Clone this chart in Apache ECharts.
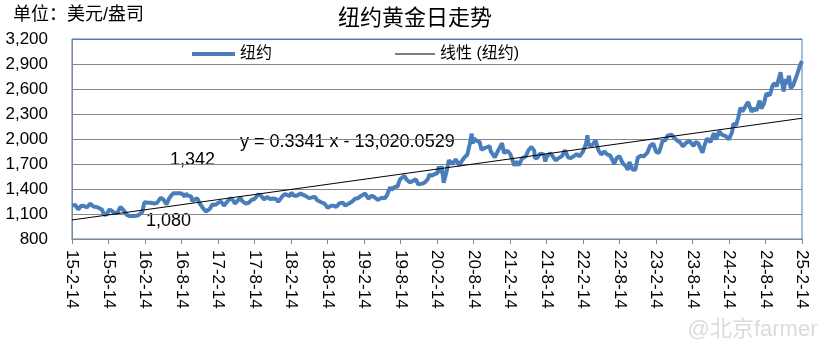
<!DOCTYPE html>
<html><head><meta charset="utf-8">
<script src="https://cdn.jsdelivr.net/npm/echarts@6/dist/echarts.min.js"></script>
<style>html,body{margin:0;padding:0;background:#fff}#c{width:830px;height:348px}</style>
</head><body><div id="c"></div>
<script>
// ---- tick labels ----
const xTickLabels = ['15-2-14','15-8-14','16-2-14','16-8-14','17-2-14','17-8-14','18-2-14','18-8-14','19-2-14','19-8-14','20-2-14','20-8-14','21-2-14','21-8-14','22-2-14','22-8-14','23-2-14','23-8-14','24-2-14','24-8-14','25-2-14'];
const yTickLabels = ['800','1,100','1,400','1,700','2,000','2,300','2,600','2,900','3,200'];
const xRange = ['2015-02-14','2025-02-14'];
const yRange = [800, 3200];

// ---- NY gold price (USD/oz) ----
const ny2015 = [['2015-02-14',1200],['2015-03-02',1210],['2015-03-17',1155],['2015-04-01',1200],['2015-04-15',1195],['2015-05-01',1180],['2015-05-15',1225],['2015-06-01',1190],['2015-06-15',1185],['2015-07-01',1170],['2015-07-15',1150],['2015-07-24',1090],['2015-08-05',1095],['2015-08-21',1155],['2015-09-01',1140],['2015-09-15',1110],['2015-10-01',1120],['2015-10-14',1185],['2015-11-01',1140],['2015-11-15',1090],['2015-12-01',1075],['2015-12-17',1075]];
const ny2016 = [['2016-01-04',1080],['2016-01-15',1090],['2016-02-01',1125],['2016-02-11',1240],['2016-03-01',1235],['2016-03-15',1235],['2016-04-01',1225],['2016-04-15',1235],['2016-05-02',1295],['2016-05-16',1275],['2016-06-01',1215],['2016-06-15',1290],['2016-06-24',1320],['2016-07-06',1350],['2016-07-15',1330],['2016-08-02',1350],['2016-08-15',1345],['2016-09-01',1310],['2016-09-07',1345],['2016-09-15',1320],['2016-10-03',1310],['2016-10-07',1255],['2016-10-17',1255],['2016-11-01',1290],['2016-11-15',1225],['2016-12-01',1170],['2016-12-15',1130]];
const ny2017 = [['2017-01-03',1160],['2017-01-17',1215],['2017-02-01',1210],['2017-02-15',1235],['2017-03-01',1250],['2017-03-15',1200],['2017-04-03',1255],['2017-04-18',1290],['2017-05-01',1260],['2017-05-09',1225],['2017-05-15',1235],['2017-06-06',1295],['2017-06-15',1255],['2017-07-03',1225],['2017-07-10',1210],['2017-07-17',1235],['2017-08-01',1270],['2017-08-15',1280],['2017-09-01',1330],['2017-09-08',1350],['2017-09-15',1325],['2017-10-02',1275],['2017-10-16',1305],['2017-11-01',1280],['2017-11-15',1285],['2017-12-01',1280],['2017-12-12',1245],['2017-12-20',1265]];
const ny2018 = [['2018-01-02',1315],['2018-01-15',1340],['2018-01-25',1360],['2018-02-08',1315],['2018-02-15',1355],['2018-03-01',1320],['2018-03-15',1320],['2018-04-02',1345],['2018-04-11',1360],['2018-04-25',1320],['2018-05-15',1290],['2018-06-01',1300],['2018-06-14',1305],['2018-06-25',1265],['2018-07-16',1240],['2018-08-01',1225],['2018-08-16',1175],['2018-09-04',1200],['2018-09-17',1200],['2018-09-28',1185],['2018-10-15',1230],['2018-11-01',1235],['2018-11-13',1200],['2018-12-03',1230],['2018-12-17',1250]];
const ny2019 = [['2019-01-02',1285],['2019-01-15',1290],['2019-02-01',1320],['2019-02-20',1345],['2019-03-07',1285],['2019-03-25',1320],['2019-04-08',1300],['2019-04-23',1270],['2019-05-15',1295],['2019-05-30',1290],['2019-06-10',1330],['2019-06-25',1420],['2019-07-02',1390],['2019-07-18',1425],['2019-08-01',1430],['2019-08-13',1515],['2019-09-04',1560],['2019-09-16',1510],['2019-10-01',1480],['2019-10-15',1495],['2019-11-01',1515],['2019-11-12',1455],['2019-12-02',1465],['2019-12-16',1480],['2019-12-31',1520]];
const ny2020 = [['2020-01-08',1575],['2020-01-20',1560],['2020-02-03',1580],['2020-02-14',1585],['2020-02-24',1670],['2020-03-02',1595],['2020-03-09',1675],['2020-03-19',1475],['2020-04-01',1595],['2020-04-14',1745],['2020-05-01',1700],['2020-05-18',1755],['2020-06-05',1685],['2020-06-16',1730],['2020-07-01',1780],['2020-07-15',1810],['2020-07-28',1945],['2020-08-06',2065],['2020-08-11',1945],['2020-08-18',2005],['2020-09-01',1975],['2020-09-15',1965],['2020-09-24',1870],['2020-10-13',1895],['2020-11-04',1915],['2020-11-09',1855],['2020-11-30',1780],['2020-12-15',1855]];
const ny2021 = [['2021-01-05',1950],['2021-01-15',1830],['2021-02-01',1860],['2021-02-15',1820],['2021-03-01',1725],['2021-03-08',1680],['2021-03-17',1730],['2021-03-30',1685],['2021-04-15',1765],['2021-05-03',1790],['2021-05-17',1865],['2021-06-01',1905],['2021-06-15',1860],['2021-06-18',1770],['2021-07-01',1775],['2021-07-15',1825],['2021-08-02',1815],['2021-08-09',1730],['2021-08-16',1785],['2021-09-03',1830],['2021-09-15',1795],['2021-09-30',1745],['2021-10-15',1770],['2021-11-01',1795],['2021-11-16',1865],['2021-12-01',1780],['2021-12-15',1770]];
const ny2022 = [['2022-01-03',1800],['2022-01-14',1820],['2022-01-28',1790],['2022-02-15',1855],['2022-03-01',1940],['2022-03-08',2045],['2022-03-15',1925],['2022-04-01',1925],['2022-04-18',1985],['2022-05-02',1865],['2022-05-16',1815],['2022-06-01',1850],['2022-06-15',1815],['2022-07-01',1800],['2022-07-20',1700],['2022-08-01',1770],['2022-08-15',1795],['2022-09-01',1710],['2022-09-15',1680],['2022-09-27',1630],['2022-10-04',1725],['2022-10-20',1635],['2022-11-03',1630],['2022-11-15',1775],['2022-12-01',1800],['2022-12-15',1790]];
const ny2023 = [['2023-01-03',1840],['2023-01-16',1920],['2023-02-01',1945],['2023-02-15',1845],['2023-03-01',1835],['2023-03-08',1815],['2023-03-20',1980],['2023-04-03',1985],['2023-04-13',2040],['2023-05-04',2050],['2023-05-15',2020],['2023-06-01',1980],['2023-06-15',1960],['2023-06-29',1910],['2023-07-17',1960],['2023-08-01',1975],['2023-08-21',1915],['2023-09-01',1965],['2023-09-15',1945],['2023-10-05',1835],['2023-10-16',1930],['2023-10-27',2005],['2023-11-14',1965],['2023-12-01',2070],['2023-12-13',1995],['2023-12-27',2090]];
const ny2024 = [['2024-01-12',2050],['2024-01-29',2035],['2024-02-14',1995],['2024-03-01',2085],['2024-03-08',2185],['2024-03-21',2165],['2024-04-01',2255],['2024-04-12',2375],['2024-04-22',2330],['2024-05-02',2310],['2024-05-20',2445],['2024-06-07',2325],['2024-06-20',2370],['2024-07-01',2340],['2024-07-17',2460],['2024-07-25',2365],['2024-08-07',2420],['2024-08-20',2545],['2024-09-06',2525],['2024-09-20',2645],['2024-10-01',2670],['2024-10-10',2630],['2024-10-30',2800],['2024-11-06',2680],['2024-11-14',2570],['2024-11-25',2720],['2024-12-02',2660],['2024-12-11',2760],['2024-12-19',2610],['2024-12-31',2640]];
const ny2025 = [['2025-01-08',2660],['2025-01-17',2750],['2025-01-27',2760],['2025-02-05',2890],['2025-02-11',2920],['2025-02-14',2935]];

// ---- Excel linear trendline: y = 0.3341 x - 13,020.0529 (x = Excel date serial) ----
const trendSlope = 0.3341;
const trendIntercept = -13020.0529;
const trendLabel = 'y = 0.3341 x - 13,020.0529';

const nyData = [].concat(ny2015, ny2016, ny2017, ny2018, ny2019, ny2020, ny2021, ny2022, ny2023, ny2024, ny2025);
function excelSerial(s) {
  const p = s.split('-').map(Number);
  return (Date.UTC(p[0], p[1] - 1, p[2]) - Date.UTC(1899, 11, 30)) / 86400000;
}
const trendData = xRange.map(d => [d, trendSlope * excelSerial(d) + trendIntercept]);

const FONT = '"Liberation Sans", Arial, "Noto Sans CJK SC", sans-serif';
const grey = '#868686';
const blue = '#4a7ebb';

const chart = echarts.init(document.getElementById('c'), null, {renderer: 'canvas'});
chart.setOption({
  animation: false,
  backgroundColor: '#fff',
  textStyle: {fontFamily: FONT},
  title: {
    text: '纽约黄金日走势', left: 'center', top: 3,
    textStyle: {fontFamily: FONT, fontSize: 22, fontWeight: 'normal', color: '#000'}
  },
  grid: {left: 72, right: 28, top: 39, bottom: 109, show: true, borderColor: blue, borderWidth: 1,
         backgroundColor: 'transparent', containLabel: false, outerBoundsMode: 'none'},
  legend: [
    {data: ['纽约'], left: 187, top: 41, itemWidth: 43, itemHeight: 4, icon: 'rect', itemGap: 0,
     textStyle: {fontFamily: FONT, fontSize: 16, color: '#000'}},
    {data: ['线性 (纽约)'], left: 390, top: 41, itemWidth: 40, itemHeight: 1, icon: 'rect', itemGap: 0,
     textStyle: {fontFamily: FONT, fontSize: 16, color: '#000'}}
  ],
  xAxis: [
    {type: 'time', min: xRange[0], max: xRange[1], show: false},
    {type: 'category', data: xTickLabels, boundaryGap: false, position: 'bottom',
     axisLine: {show: true, lineStyle: {color: grey, width: 1}},
     axisTick: {show: true, length: 5, lineStyle: {color: grey}, interval: 0},
     axisLabel: {interval: 0, rotate: -90, margin: 11, fontSize: 17, color: '#000', fontFamily: FONT},
     splitLine: {show: false}}
  ],
  yAxis: [
    {type: 'value', min: yRange[0], max: yRange[1], show: false},
    {type: 'category', data: yTickLabels, boundaryGap: false, position: 'left',
     axisLine: {show: true, lineStyle: {color: grey, width: 1}},
     axisTick: {show: false},
     axisLabel: {interval: 0, margin: 24, fontSize: 17, color: '#000', fontFamily: FONT},
     splitLine: {show: true, interval: 0, lineStyle: {color: [grey, grey, grey, grey, grey, grey, grey, grey, blue], width: 1}}}
  ],
  series: [
    {name: '纽约', type: 'line', xAxisIndex: 0, yAxisIndex: 0, data: nyData, showSymbol: false, symbol: 'none',
     lineStyle: {color: blue, width: 4}, itemStyle: {color: blue}, z: 2},
    {name: '线性 (纽约)', type: 'line', xAxisIndex: 0, yAxisIndex: 0, data: trendData, showSymbol: false, symbol: 'none',
     lineStyle: {color: '#000', width: 1}, itemStyle: {color: '#000'}, z: 3}
  ],
  graphic: [
    {type: 'text', left: 13, top: 6, style: {text: '单位：美元/盎司', font: '18px ' + FONT, fill: '#000'}},
    {type: 'text', left: 240, top: 133, style: {text: trendLabel, font: '18px ' + FONT, fill: '#000'}},
    {type: 'text', left: 170, top: 151, style: {text: '1,342', font: '18px ' + FONT, fill: '#000'}},
    {type: 'text', left: 146, top: 212, style: {text: '1,080', font: '18px ' + FONT, fill: '#000'}},
    {type: 'text', right: 12, top: 318, style: {text: '@北京farmer', font: '22px ' + FONT, fill: 'rgba(190,190,190,0.55)', stroke: 'rgba(255,255,255,0.6)', lineWidth: 1}}
  ]
});
</script></body></html>
